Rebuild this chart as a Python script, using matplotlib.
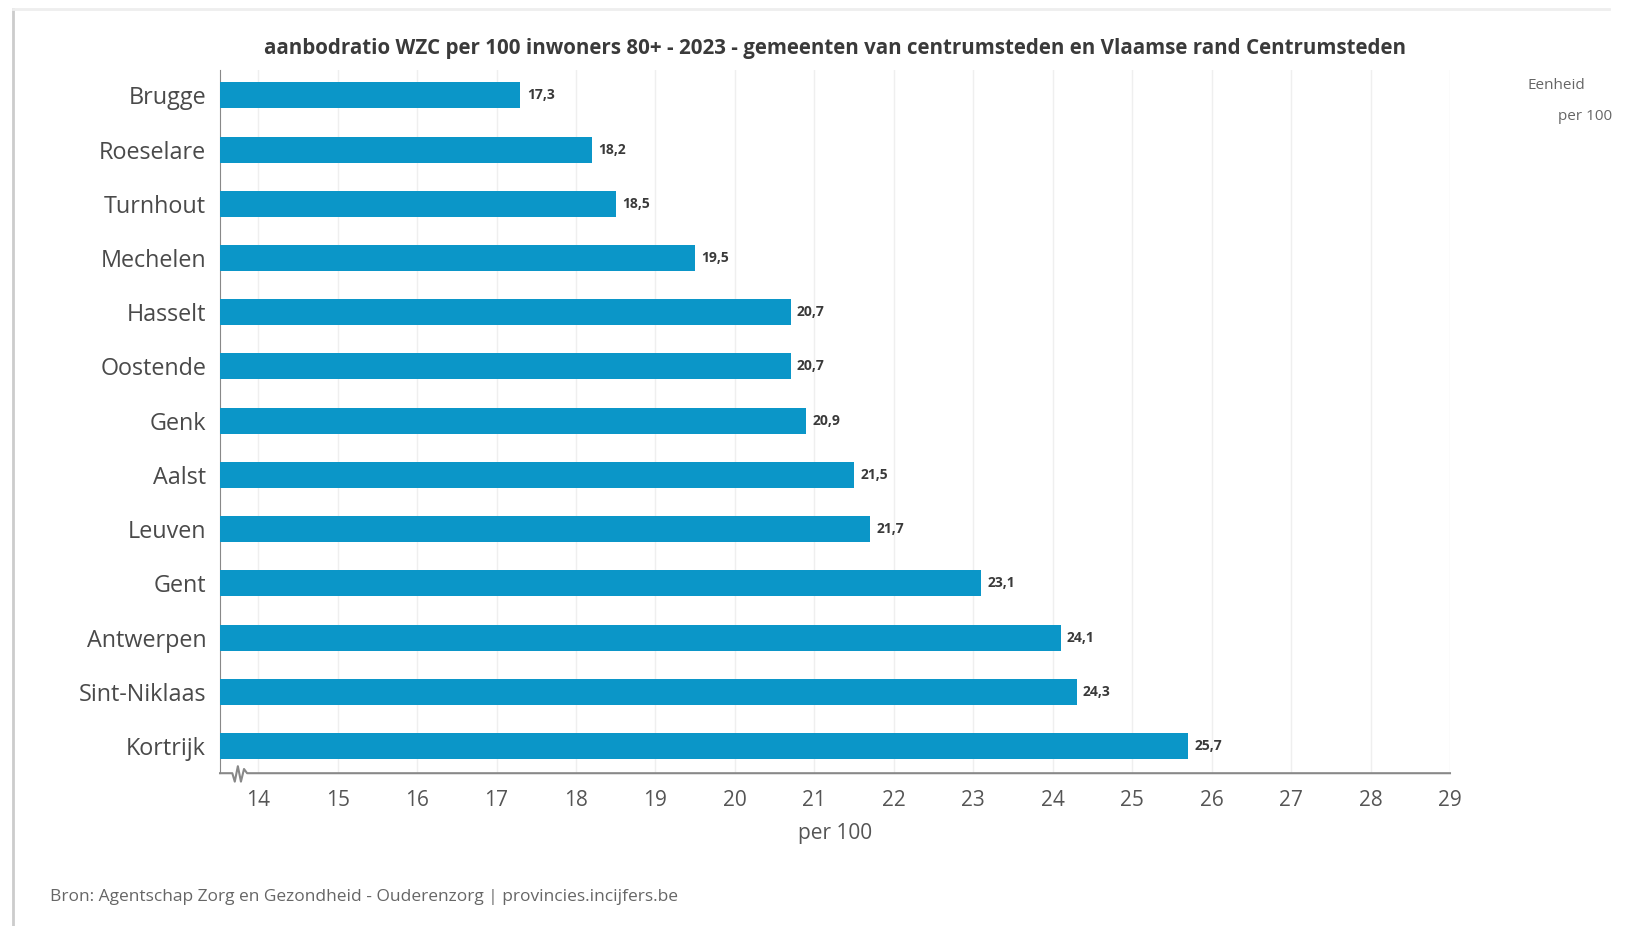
import numpy as np
import matplotlib.pyplot as plt
from matplotlib.lines import Line2D

plt.rcParams['font.family'] = ['Open Sans', 'DejaVu Sans']

gemeenten = ["Brugge", "Roeselare", "Turnhout", "Mechelen", "Hasselt", "Oostende",
             "Genk", "Aalst", "Leuven", "Gent", "Antwerpen", "Sint-Niklaas", "Kortrijk"]
waarden = [17.3, 18.2, 18.5, 19.5, 20.7, 20.7, 20.9, 21.5, 21.7, 23.1, 24.1, 24.3, 25.7]
xticks = list(range(14, 30))

bar_color = "#0b96c8"
text_col = "#4a4a4a"
x_min, x_max = 13.52, 29

fig = plt.figure(figsize=(16.25, 9.26), dpi=100)
ax = fig.add_axes([0.1354, 0.165, 0.7569, 0.759])

y = np.arange(len(gemeenten))
ax.barh(y, [v - x_min for v in waarden], left=x_min, height=0.48, color=bar_color, zorder=3)
for yi, v in zip(y, waarden):
    ax.text(v + 0.08, yi, f"{v:.1f}".replace(".", ","), va="center", ha="left",
            fontsize=10, fontweight="bold", color="#3a3a3a", zorder=4)

ax.set_xlim(x_min, x_max)
ax.set_ylim(12.5, -0.46)
ax.set_yticks(y)
ax.set_yticklabels(gemeenten, fontsize=16.8, color=text_col)
ax.set_xticks(xticks)
ax.set_xticklabels([str(t) for t in xticks], fontsize=15, color="#555555")
ax.tick_params(axis="both", length=0)
ax.tick_params(axis="y", pad=10)
ax.tick_params(axis="x", pad=12)
ax.grid(axis="x", color="#efefef", linewidth=1, zorder=0)
for s in ["top", "right"]:
    ax.spines[s].set_visible(False)
ax.spines["left"].set_color("#888888")
ax.spines["bottom"].set_visible(False)

# x-as met breuksymbool
zx = [0.0, 0.010, 0.012, 0.0145, 0.017, 0.0195, 0.022, 1.0]
zy = [0.0, 0.0, -0.012, 0.010, -0.012, 0.006, 0.0, 0.0]
ax.add_line(Line2D(zx, zy, transform=ax.transAxes, color="#888888", lw=1.5, clip_on=False, zorder=5))

ax.set_xlabel("per 100", fontsize=15, color="#555555", labelpad=9)

fig.text(0.5138, 0.948, "aanbodratio WZC per 100 inwoners 80+ - 2023 - gemeenten van centrumsteden en Vlaamse rand Centrumsteden",
         ha="center", va="center", fontsize=14.8, fontweight="bold", color="#3a3a3a")
fig.text(0.958, 0.908, "Eenheid", ha="center", va="center", fontsize=11, color="#666666")
fig.text(0.992, 0.874, "per 100", ha="right", va="center", fontsize=11, color="#666666")
fig.text(0.031, 0.031, "Bron: Agentschap Zorg en Gezondheid - Ouderenzorg | provincies.incijfers.be",
         ha="left", va="center", fontsize=12.5, color="#666666")

# kaartrand
fig.add_artist(Line2D([0.008, 0.008], [0.0, 0.99], transform=fig.transFigure, color="#cccccc", lw=2))
fig.add_artist(Line2D([0.008, 0.99], [0.99, 0.99], transform=fig.transFigure, color="#eeeeee", lw=2))

fig.savefig("out.png", dpi=100)
